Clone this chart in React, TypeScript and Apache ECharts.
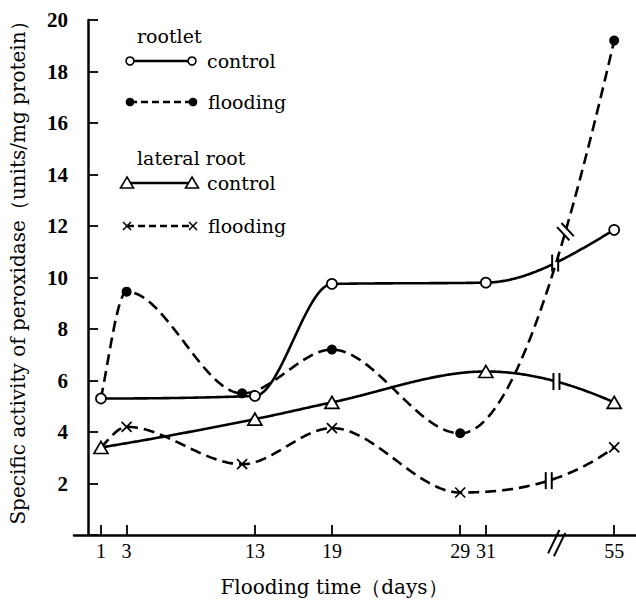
import React, { useEffect, useRef } from 'react';
import * as echarts from 'echarts';

// ---- data ----
const tickDays = [1, 3, 13, 19, 29, 31, 55];
const BREAK_AFTER_DAY = 31;
const BREAK_SHIFT = 14; // days removed by the axis break (31 .. 55)
const axisBreakPos = 36.5;

const rootletControlDays = [1, 13, 19, 31, 55];
const rootletControlValues = [5.3, 5.4, 9.75, 9.8, 11.85];
const rootletFloodingDays = [1, 3, 12, 19, 29, 55];
const rootletFloodingValues = [5.3, 9.45, 5.5, 7.2, 3.95, 19.2];
const lateralControlDays = [1, 13, 19, 31, 55];
const lateralControlValues = [3.4, 4.5, 5.15, 6.35, 5.15];
const lateralFloodingDays = [1, 3, 12, 19, 29, 55];
const lateralFloodingValues = [3.4, 4.2, 2.75, 4.15, 1.65, 3.4];

// position on the (broken) axis where each curve carries its break mark
const curveBreakPos = { rootletControl: 36.4, rootletFlooding: 37.2, lateralControl: 36.5, lateralFlooding: 35.9 };

const pos = (d: number) => (d > BREAK_AFTER_DAY ? d - BREAK_SHIFT : d);

function endSlope(h0: number, h1: number, d0: number, d1: number) {
  let m = ((2 * h0 + h1) * d0 - h0 * d1) / (h0 + h1);
  if (Math.sign(m) !== Math.sign(d0)) m = 0;
  else if (Math.sign(d0) !== Math.sign(d1) && Math.abs(m) > Math.abs(3 * d0)) m = 3 * d0;
  return m;
}

function monotone(xs: number[], ys: number[]) {
  const n = xs.length;
  const h: number[] = [];
  const d: number[] = [];
  for (let i = 0; i < n - 1; i++) {
    h[i] = xs[i + 1] - xs[i];
    d[i] = (ys[i + 1] - ys[i]) / h[i];
  }
  const m: number[] = new Array(n).fill(0);
  m[0] = endSlope(h[0], h[1], d[0], d[1]);
  m[n - 1] = endSlope(h[n - 2], h[n - 3], d[n - 2], d[n - 3]);
  for (let i = 1; i < n - 1; i++) {
    if (d[i - 1] * d[i] <= 0) m[i] = 0;
    else {
      const w1 = 2 * h[i] + h[i - 1];
      const w2 = h[i] + 2 * h[i - 1];
      m[i] = (w1 + w2) / (w1 / d[i - 1] + w2 / d[i]);
    }
  }
  return (x: number) => {
    let k = 0;
    while (k < n - 2 && x > xs[k + 1]) k++;
    const t = (x - xs[k]) / h[k];
    const t2 = t * t, t3 = t2 * t;
    return (2 * t3 - 3 * t2 + 1) * ys[k] + (t3 - 2 * t2 + t) * h[k] * m[k] +
      (-2 * t3 + 3 * t2) * ys[k + 1] + (t3 - t2) * h[k] * m[k + 1];
  };
}

const SERIF = '"DejaVu Serif", serif';
const DASH = [11, 6];

function curveSeries(days: number[], values: number[], dash: number[] | null, breakAt: number, breakRot: number, barLen: number) {
  const xs = days.map(pos);
  const f = monotone(xs, values);
  return {
    type: 'custom',
    coordinateSystem: 'cartesian2d',
    clip: false,
    silent: true,
    z: 3,
    data: [[xs[0], values[0]]],
    renderItem: (_p: any, api: any) => {
      const pts: number[][] = [];
      const x0 = xs[0], x1 = xs[xs.length - 1];
      const N = 400;
      for (let i = 0; i <= N; i++) {
        const x = x0 + ((x1 - x0) * i) / N;
        pts.push(api.coord([x, f(x)]));
      }
      const bp = api.coord([breakAt, f(breakAt)]);
      const half = barLen / 2;
      return {
        type: 'group',
        children: [
          { type: 'polyline', shape: { points: pts }, style: { stroke: '#000', lineWidth: 2.6, lineDash: dash || undefined, fill: null } },
          {
            type: 'group', x: bp[0], y: bp[1], rotation: breakRot,
            children: [
              { type: 'rect', shape: { x: -3, y: -half, width: 6, height: barLen }, style: { fill: '#fff' } },
              { type: 'line', shape: { x1: -3, y1: -half, x2: -3, y2: half }, style: { stroke: '#000', lineWidth: 2 } },
              { type: 'line', shape: { x1: 3, y1: -half, x2: 3, y2: half }, style: { stroke: '#000', lineWidth: 2 } },
            ],
          },
        ],
      };
    },
  };
}

function legendRow(y: number, x0: number, x1: number, sym: string, dashed: boolean, label: string) {
  const els: any[] = [];
  els.push({ type: 'line', shape: { x1: x0, y1: y, x2: x1, y2: y }, style: { stroke: '#000', lineWidth: 2.4, lineDash: dashed ? [7, 4] : null } });
  [x0, x1].forEach((cx) => {
    if (sym === 'open') els.push({ type: 'circle', shape: { cx, cy: y, r: 4 }, style: { fill: '#fff', stroke: '#000', lineWidth: 1.6 } });
    if (sym === 'filled') els.push({ type: 'circle', shape: { cx, cy: y, r: 4.3 }, style: { fill: '#000' } });
    if (sym === 'tri') els.push({ type: 'polygon', shape: { points: [[cx, y - 6], [cx + 6.5, y + 5], [cx - 6.5, y + 5]] }, style: { fill: '#fff', stroke: '#000', lineWidth: 1.6 } });
    if (sym === 'cross') {
      els.push({ type: 'line', shape: { x1: cx - 4, y1: y - 4, x2: cx + 4, y2: y + 4 }, style: { stroke: '#000', lineWidth: 1.6 } });
      els.push({ type: 'line', shape: { x1: cx + 4, y1: y - 4, x2: cx - 4, y2: y + 4 }, style: { stroke: '#000', lineWidth: 1.6 } });
    }
  });
  els.push(textEl(x1 + 15, y, label, 'left'));
  return els;
}

function textEl(x: number, y: number, text: string, align: string, size = 19, rotation = 0) {
  return {
    type: 'text', x, y, rotation, silent: true,
    style: { text, font: `${size}px ${SERIF}`, fill: '#000', align, verticalAlign: 'middle', textAlign: align, textVerticalAlign: 'middle' },
  };
}

export default function App() {
  const ref = useRef<HTMLDivElement>(null);
  useEffect(() => {
    if (!ref.current) return;
    const chart = echarts.init(ref.current, null, { renderer: 'svg' });
    const tickPositions = tickDays.map(pos);
    const markerStyle = { color: '#fff', borderColor: '#000', borderWidth: 1.7, opacity: 1 };
    const graphics: any[] = [
      textEl(137, 36, 'rootlet', 'left'),
      ...legendRow(61, 130, 192, 'open', false, 'control'),
      ...legendRow(102, 130, 193, 'filled', true, 'flooding'),
      textEl(137, 158, 'lateral root', 'left'),
      ...legendRow(183, 127, 192, 'tri', false, 'control'),
      ...legendRow(226, 127, 193, 'cross', true, 'flooding'),
      textEl(334, 587, 'Flooding time（days）', 'center', 20),
      textEl(18, 268, 'Specific activity of peroxidase（units/mg protein）', 'center', 20, Math.PI / 2),
    ];
    chart.setOption({
      animation: false,
      grid: { left: 74, right: 0, top: 20, bottom: 69 },
      xAxis: {
        type: 'value', min: -1.1, max: 42.7,
        axisLine: { show: true, lineStyle: { color: '#000', width: 2.5 } },
        splitLine: { show: false },
        axisTick: { show: true, inside: true, length: 10, customValues: tickPositions, lineStyle: { color: '#000', width: 1.8 } },
        axisLabel: {
          customValues: tickPositions, margin: 6, color: '#000',
          fontFamily: '"Liberation Serif", serif', fontSize: 20,
          formatter: (v: number) => { const i = tickPositions.indexOf(v); return i >= 0 ? String(tickDays[i]) : ''; },
        },
      },
      yAxis: {
        type: 'value', min: 0, max: 20, interval: 2,
        axisLine: { show: true, lineStyle: { color: '#000', width: 2.5 } },
        splitLine: { show: false },
        axisTick: { show: true, inside: true, length: 10, lineStyle: { color: '#000', width: 1.8 } },
        axisLabel: {
          margin: 6, color: '#000', fontFamily: '"Liberation Serif", serif', fontSize: 21, fontWeight: 'bold',
          formatter: (v: number) => (v === 0 ? '' : String(v)),
        },
      },
      graphic: graphics,
      series: [
        curveSeries(rootletControlDays, rootletControlValues, null, curveBreakPos.rootletControl, 0, 17),
        curveSeries(lateralControlDays, lateralControlValues, null, curveBreakPos.lateralControl, 0, 17),
        curveSeries(lateralFloodingDays, lateralFloodingValues, DASH, curveBreakPos.lateralFlooding, 0, 17),
        curveSeries(rootletFloodingDays, rootletFloodingValues, DASH, curveBreakPos.rootletFlooding, 0.75, 18),
        {
          type: 'custom', coordinateSystem: 'cartesian2d', clip: false, silent: true, z: 3,
          data: [[axisBreakPos, 0]],
          renderItem: (_p: any, api: any) => {
            const c = api.coord([axisBreakPos, 0]);
            return {
              type: 'group', x: c[0], y: c[1] + 8, rotation: -0.45,
              children: [
                { type: 'line', shape: { x1: -3, y1: -13, x2: -3, y2: 13 }, style: { stroke: '#000', lineWidth: 2 } },
                { type: 'line', shape: { x1: 3.5, y1: -13, x2: 3.5, y2: 13 }, style: { stroke: '#000', lineWidth: 2 } },
              ],
            };
          },
        },
        {
          type: 'scatter', z: 5, symbol: 'circle', symbolSize: 10, itemStyle: markerStyle,
          data: rootletControlDays.map((d, i) => [pos(d), rootletControlValues[i]]),
        },
        {
          type: 'scatter', z: 5, symbol: 'circle', symbolSize: 10, itemStyle: { color: '#000', opacity: 1 },
          data: rootletFloodingDays.slice(1).map((d, i) => [pos(d), rootletFloodingValues[i + 1]]),
        },
        {
          type: 'scatter', z: 5, symbol: 'triangle', symbolSize: [14, 12], itemStyle: markerStyle,
          data: lateralControlDays.map((d, i) => [pos(d), lateralControlValues[i]]),
        },
        {
          type: 'scatter', z: 5, symbol: 'path://M0,0L10,10M10,0L0,10', symbolSize: 10,
          itemStyle: { color: 'none', borderColor: '#000', borderWidth: 1.7, opacity: 1 },
          data: lateralFloodingDays.slice(1).map((d, i) => [pos(d), lateralFloodingValues[i + 1]]),
        },
      ],
    });
    return () => chart.dispose();
  }, []);
  return <div ref={ref} style={{ position: 'fixed', left: 0, top: 0, width: 636, height: 604, background: '#fff' }} />;
}
